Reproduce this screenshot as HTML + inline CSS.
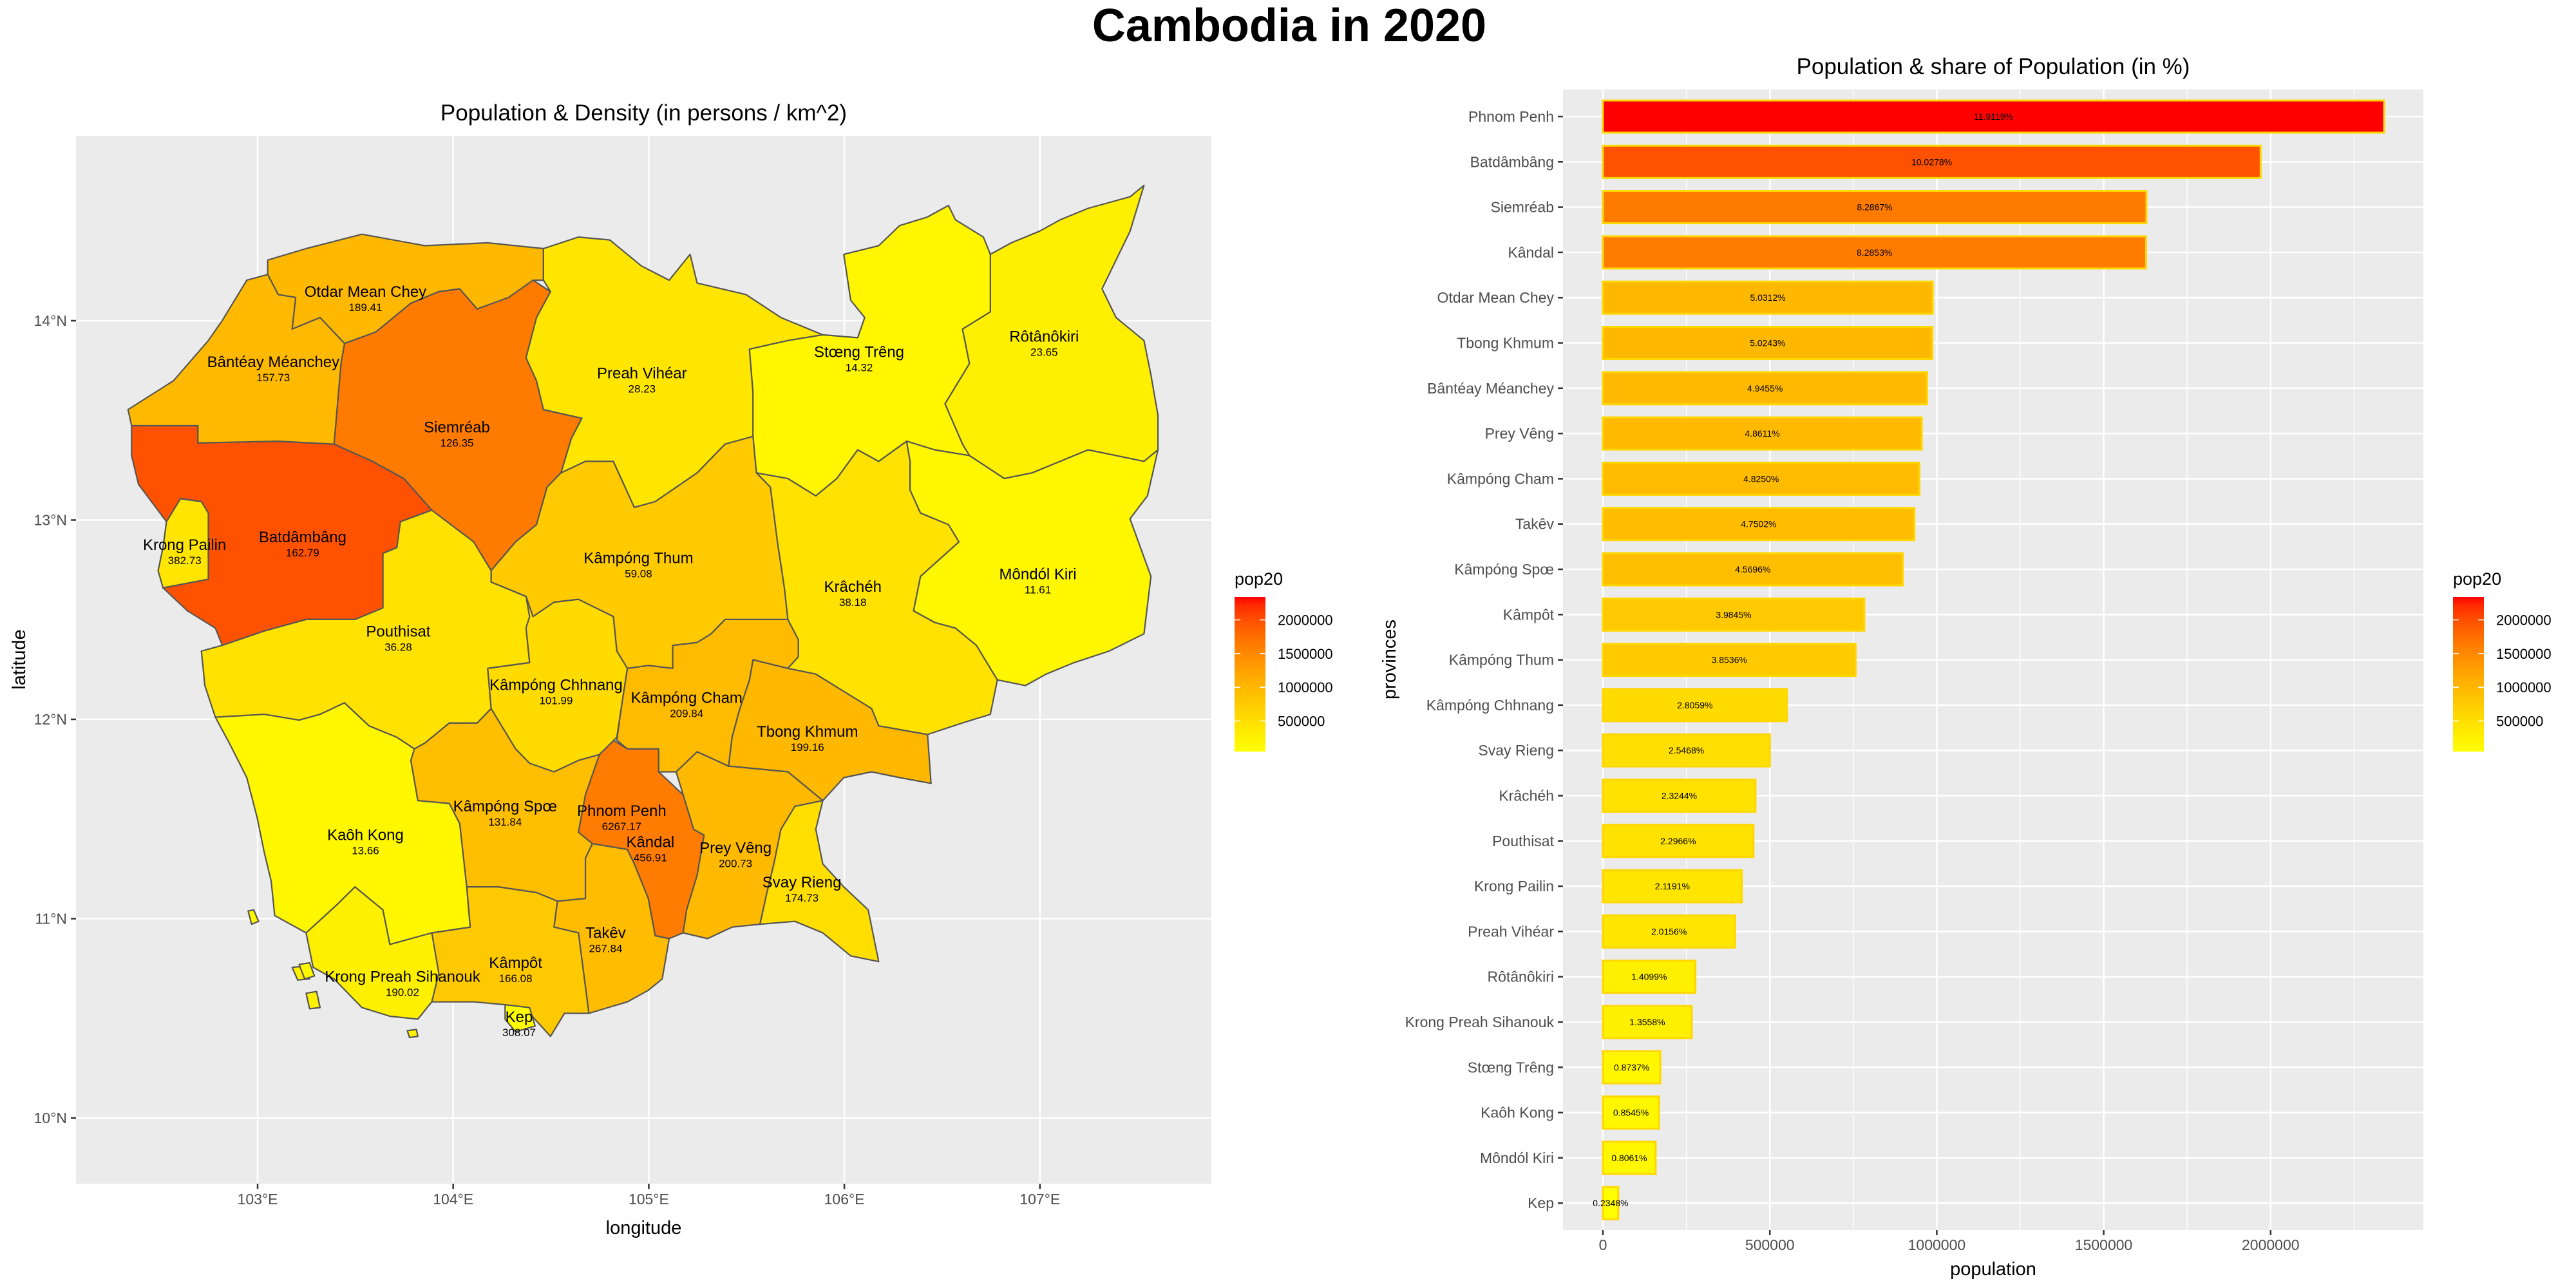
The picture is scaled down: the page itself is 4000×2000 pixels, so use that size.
<!DOCTYPE html>
<html><head><meta charset="utf-8">
<style>
html,body{margin:0;padding:0;background:#fff;}
svg{display:block;font-family:"Liberation Sans",Arial,sans-serif;}
</style></head>
<body>
<svg id="chart" xmlns="http://www.w3.org/2000/svg" width="4000" height="2000" viewBox="0 0 4000 2000">
<defs>
<linearGradient id="popgrad" x1="0" y1="1" x2="0" y2="0"></linearGradient>
</defs>
<rect x="0" y="0" width="4000" height="2000" fill="#ffffff"/>
<text x="2002" y="64" text-anchor="middle" font-size="72" font-weight="bold" fill="#000">Cambodia in 2020</text>
<g id="map"></g>
<g id="bars"></g>
</svg>
<script>
// ---------- data ----------
const provinces = ["Phnom Penh","Batdâmbâng","Siemréab","Kândal","Otdar Mean Chey","Tbong Khmum","Bântéay Méanchey","Prey Vêng","Kâmpóng Cham","Takêv","Kâmpóng Spœ","Kâmpôt","Kâmpóng Thum","Kâmpóng Chhnang","Svay Rieng","Krâchéh","Pouthisat","Krong Pailin","Preah Vihéar","Rôtânôkiri","Krong Preah Sihanouk","Stœng Trêng","Kaôh Kong","Môndól Kiri","Kep"];
const population = [2340000,1970000,1628000,1627000,988000,987000,971000,955000,948000,933000,898000,783000,757000,551000,500000,457000,451000,416000,396000,277000,266000,172000,168000,158000,46000];
const shareLabels = ["11.9119%","10.0278%","8.2867%","8.2853%","5.0312%","5.0243%","4.9455%","4.8611%","4.8250%","4.7502%","4.5696%","3.9845%","3.8536%","2.8059%","2.5468%","2.3244%","2.2966%","2.1191%","2.0156%","1.4099%","1.3558%","0.8737%","0.8545%","0.8061%","0.2348%"];
const density = ["6267.17","162.79","126.35","456.91","189.41","199.16","157.73","200.73","209.84","267.84","131.84","166.08","59.08","101.99","174.73","38.18","36.28","382.73","28.23","23.65","190.02","14.32","13.66","11.61","308.07"];
const xTicks = [0,500000,1000000,1500000,2000000];
const xMinor = [250000,750000,1250000,1750000,2250000];
const legendTicks = [500000,1000000,1500000,2000000];
const lonTicks = [103,104,105,106,107];
const latTicks = [10,11,12,13,14];

// province geometry in local survey-grid units (gx, gy), converted by toLonLat
const geometry = {
"Bântéay Méanchey":[[45,410],[110,360],[160,290],[180,255],[215,185],[245,175],[260,210],[285,215],[280,270],[320,250],[355,295],[350,330],[345,400],[340,470],[260,465],[145,468],[145,438],[50,438]],
"Otdar Mean Chey":[[245,175],[245,150],[300,130],[380,105],[470,125],[560,120],[640,130],[640,185],[625,185],[590,215],[545,235],[520,200],[490,205],[450,225],[400,275],[355,295],[320,250],[280,270],[285,215],[260,210]],
"Siemréab":[[355,295],[400,275],[450,225],[490,205],[520,200],[545,235],[590,215],[625,185],[650,205],[630,250],[615,320],[630,360],[640,410],[695,425],[680,460],[665,520],[645,545],[630,610],[600,640],[565,690],[540,640],[480,585],[440,530],[395,500],[340,470],[345,400],[350,330]],
"Batdâmbâng":[[50,438],[145,438],[145,468],[260,465],[340,470],[395,500],[440,530],[480,585],[435,605],[430,650],[410,660],[410,755],[370,775],[300,775],[240,795],[180,820],[170,790],[130,760],[95,720],[160,705],[160,590],[150,570],[120,565],[100,605],[60,540],[50,490]],
"Krong Pailin":[[100,605],[120,565],[150,570],[160,590],[160,705],[95,720],[88,690],[95,650]],
"Pouthisat":[[180,820],[240,795],[300,775],[370,775],[410,755],[410,660],[430,650],[435,605],[480,585],[540,640],[565,690],[565,710],[615,735],[620,770],[615,790],[620,850],[560,860],[565,930],[545,955],[505,955],[470,990],[455,1000],[430,980],[390,960],[355,920],[320,940],[290,950],[240,940],[170,945],[155,890],[150,830]],
"Kaôh Kong":[[170,945],[240,940],[290,950],[320,940],[355,920],[390,960],[430,980],[455,1000],[450,1020],[460,1090],[505,1095],[520,1130],[530,1240],[535,1310],[480,1320],[450,1330],[420,1340],[410,1280],[370,1240],[345,1270],[300,1320],[255,1290],[250,1230],[240,1180],[230,1120],[215,1050],[190,990]],
"Krong Preah Sihanouk":[[300,1320],[345,1270],[370,1240],[410,1280],[420,1340],[450,1330],[480,1320],[490,1390],[480,1440],[460,1470],[420,1465],[380,1450],[340,1400],[310,1380]],
"Kâmpóng Chhnang":[[565,710],[615,735],[625,770],[655,745],[690,740],[740,770],[745,830],[760,860],[750,940],[745,980],[720,1010],[690,1020],[655,1040],[620,1025],[600,1000],[580,960],[565,930],[560,860],[620,850],[615,790]],
"Kâmpóng Spœ":[[455,1000],[470,990],[505,955],[545,955],[565,930],[580,960],[600,1000],[620,1025],[655,1040],[690,1020],[720,1010],[700,1080],[690,1145],[710,1165],[700,1190],[700,1260],[660,1265],[630,1250],[575,1240],[530,1240],[520,1130],[505,1095],[460,1090],[450,1020]],
"Kâmpôt":[[530,1240],[575,1240],[630,1250],[660,1265],[655,1310],[690,1320],[705,1460],[670,1460],[650,1500],[620,1460],[585,1445],[540,1440],[480,1440],[490,1390],[480,1320],[535,1310]],
"Kep":[[585,1445],[620,1450],[628,1482],[600,1492],[585,1470]],
"Takêv":[[660,1265],[700,1260],[700,1190],[710,1165],[760,1175],[770,1200],[790,1260],[800,1325],[820,1330],[810,1400],[790,1420],[760,1440],[705,1460],[690,1320],[655,1310]],
"Kândal":[[720,1010],[740,985],[760,1000],[805,1000],[805,1040],[840,1080],[855,1140],[870,1150],[860,1220],[845,1280],[840,1320],[820,1330],[800,1325],[790,1260],[770,1200],[760,1175],[710,1165],[690,1145],[700,1080]],
"Phnom Penh":[[725,1070],[740,1060],[765,1065],[775,1100],[770,1140],[745,1145],[730,1120]],
"Kâmpóng Cham":[[760,860],[790,855],[825,860],[825,820],[860,815],[880,800],[900,775],[990,775],[1005,810],[1005,840],[990,860],[940,845],[935,880],[920,935],[910,980],[905,1030],[860,1005],[830,1040],[805,1040],[805,1000],[760,1000],[745,985],[750,940]],
"Tbong Khmum":[[940,845],[990,860],[1030,870],[1070,900],[1110,930],[1120,960],[1190,975],[1195,1060],[1150,1050],[1110,1040],[1070,1050],[1040,1090],[1010,1060],[990,1040],[905,1030],[910,980],[920,935],[935,880]],
"Prey Vêng":[[830,1040],[860,1005],[905,1030],[990,1040],[1010,1060],[1040,1090],[1000,1100],[980,1140],[970,1200],[960,1250],[950,1305],[910,1310],[875,1330],[840,1320],[845,1280],[860,1220],[870,1150],[855,1140],[840,1080]],
"Svay Rieng":[[1040,1090],[1030,1140],[1040,1200],[1070,1240],[1105,1280],[1120,1370],[1080,1360],[1040,1320],[1000,1300],[950,1305],[960,1250],[970,1200],[980,1140],[1000,1100]],
"Kâmpóng Thum":[[565,690],[600,640],[630,610],[645,545],[665,520],[700,500],[740,500],[770,580],[800,570],[860,520],[900,470],[940,455],[945,520],[965,545],[975,640],[985,720],[990,775],[900,775],[880,800],[860,815],[825,820],[825,860],[790,855],[760,860],[745,830],[740,770],[690,740],[655,745],[625,770],[615,735],[565,710]],
"Preah Vihéar":[[640,130],[690,110],[735,115],[780,160],[820,185],[850,140],[860,190],[930,210],[980,250],[1040,280],[990,290],[935,305],[940,380],[945,455],[900,470],[860,520],[800,570],[770,580],[740,500],[700,500],[665,520],[680,460],[695,425],[640,410],[630,360],[615,320],[630,250],[650,205],[640,185]],
"Stœng Trêng":[[935,305],[990,290],[1040,280],[1090,285],[1100,250],[1080,220],[1070,140],[1120,125],[1150,90],[1190,75],[1220,55],[1230,80],[1270,110],[1280,140],[1280,240],[1240,270],[1250,330],[1215,400],[1240,470],[1250,490],[1200,480],[1160,465],[1120,500],[1090,480],[1060,530],[1030,560],[990,530],[945,520],[940,455],[940,380]],
"Rôtânôkiri":[[1280,140],[1310,120],[1350,100],[1380,80],[1420,60],[1450,50],[1480,40],[1500,20],[1480,100],[1460,150],[1440,200],[1460,250],[1500,290],[1510,350],[1520,420],[1520,480],[1500,500],[1460,490],[1420,480],[1380,500],[1340,520],[1300,530],[1250,490],[1240,470],[1215,400],[1250,330],[1240,270],[1280,240]],
"Môndól Kiri":[[1160,465],[1200,480],[1250,490],[1300,530],[1340,520],[1380,500],[1420,480],[1460,490],[1500,500],[1520,480],[1505,560],[1480,600],[1510,700],[1500,800],[1450,830],[1400,850],[1360,870],[1330,890],[1290,880],[1260,820],[1230,790],[1200,780],[1170,760],[1180,700],[1235,640],[1220,610],[1180,590],[1165,550],[1165,500]],
"Krâchéh":[[945,520],[990,530],[1030,560],[1060,530],[1090,480],[1120,500],[1160,465],[1165,500],[1165,550],[1180,590],[1220,610],[1235,640],[1180,700],[1170,760],[1200,780],[1230,790],[1260,820],[1290,880],[1280,940],[1240,955],[1190,975],[1120,960],[1110,930],[1070,900],[1030,870],[990,860],[1005,840],[1005,810],[990,775],[985,720],[975,640],[965,545]]
};
const islands = {
"Kaôh Kong":[[[217,1282],[225,1280],[232,1300],[222,1305]],[[290,1375],[305,1372],[312,1395],[298,1400]]],
"Krong Preah Sihanouk":[[[280,1380],[298,1378],[305,1400],[288,1402]],[[300,1425],[315,1422],[320,1450],[305,1452]],[[445,1490],[458,1488],[460,1500],[448,1502]]]
};
const labelPos = {
"Otdar Mean Chey":[385,205],"Bântéay Méanchey":[253,327],"Siemréab":[516,441],"Preah Vihéar":[781,347],"Stœng Trêng":[1092,310],"Rôtânôkiri":[1357,283],"Krong Pailin":[126,645],"Batdâmbâng":[295,632],"Kâmpóng Thum":[776,668],"Krâchéh":[1083,718],"Môndól Kiri":[1348,696],"Pouthisat":[432,796],"Kâmpóng Chhnang":[658,889],"Kâmpóng Cham":[845,911],"Tbong Khmum":[1018,970],"Kâmpóng Spœ":[585,1100],"Phnom Penh":[752,1108],"Kândal":[793,1162],"Prey Vêng":[915,1172],"Svay Rieng":[1010,1232],"Kaôh Kong":[385,1150],"Takêv":[729,1320],"Kâmpôt":[600,1372],"Krong Preah Sihanouk":[438,1396],"Kep":[605,1466]
};

// ---------- helpers ----------
const NS = "http://www.w3.org/2000/svg";
function mk(tag, attrs, parent){ const e=document.createElementNS(NS,tag); for(const k in attrs) e.setAttribute(k,attrs[k]); if(parent) parent.appendChild(e); return e; }
const popMin = Math.min(...population), popMax = Math.max(...population);
function popColor(v){
  const t = Math.max(0, Math.min(1, (v-popMin)/(popMax-popMin)));
  const g = Math.round(255*Math.pow(1-t, 0.62));
  return "rgb(255,"+g+",0)";
}
// gradient stops
const grad = document.getElementById('popgrad');
for(let i=0;i<=20;i++){ const v=popMin+(popMax-popMin)*i/20; mk('stop',{offset:(i*5)+'%','stop-color':popColor(v)},grad); }

function toLonLat(p){ return [102.177 + 0.00357*p[0], 14.737 - 0.002885*p[1]]; }
function lonX(lon){ return 400 + (lon-103)*303.7; }
function latY(lat){ return 498 - (lat-14)*309.5; }
function proj(p){ const ll=toLonLat(p); return [lonX(ll[0]), latY(ll[1])]; }

function legend(parent, x, name){
  const g = mk('g',{},parent);
  
  
  const top=927, bot=1167, w=48;
  const t = mk('text',{x:x,y:908,'font-size':27,fill:'#000'},g); t.textContent='pop20';
  
  
  const r = mk('rect',{x:x,y:top,width:w,height:bot-top,fill:'url(#popgrad)'},g);
  
  
  legendTicks.forEach(v=>{
    const y = bot - (v-popMin)/(popMax-popMin)*(bot-top);
    mk('line',{x1:x,x2:x+9,y1:y,y2:y,stroke:'#fff','stroke-width':1.5},g);
    mk('line',{x1:x+w-9,x2:x+w,y1:y,y2:y,stroke:'#fff','stroke-width':1.5},g);
    const l = mk('text',{x:x+67,y:y+8,'font-size':22,fill:'#000'},g); l.textContent=String(v);
    
    
  });
}

// ---------- map ----------
(function(){
  const m = document.getElementById('map');
  const L=118, R=1881, T=211, B=1838;
  const ttl = mk('text',{x:(L+R)/2,y:187,'text-anchor':'middle','font-size':35,fill:'#000'},m);
  ttl.textContent='Population & Density (in persons / km^2)';
  
  
  const panel = mk('rect',{x:L,y:T,width:R-L,height:B-T,fill:'#ebebeb'},m);
  
  
  lonTicks.forEach(lon=>{
    const x=lonX(lon);
    const gl=mk('line',{x1:x,x2:x,y1:T,y2:B,stroke:'#fff','stroke-width':2.5},m);
    
    
    mk('line',{x1:x,x2:x,y1:B,y2:B+8,stroke:'#333','stroke-width':2.5},m);
    const t=mk('text',{x:x,y:1870,'text-anchor':'middle','font-size':23,fill:'#4d4d4d'},m); t.textContent=lon+'°E';
    
    
  });
  latTicks.forEach(lat=>{
    const y=latY(lat);
    const gl=mk('line',{x1:L,x2:R,y1:y,y2:y,stroke:'#fff','stroke-width':2.5},m);
    
    
    mk('line',{x1:L-8,x2:L,y1:y,y2:y,stroke:'#333','stroke-width':2.5},m);
    const t=mk('text',{x:104,y:y+8,'text-anchor':'end','font-size':23,fill:'#4d4d4d'},m); t.textContent=lat+'°N';
    
    
  });
  const xt=mk('text',{x:(L+R)/2,y:1916,'text-anchor':'middle','font-size':29,fill:'#000'},m); xt.textContent='longitude';
  
  
  const yt=mk('text',{x:0,y:0,'text-anchor':'middle','font-size':29,fill:'#000',transform:'translate(39,1024) rotate(-90)'},m); yt.textContent='latitude';
  
  

  const gp = mk('g',{},m);
  
  
  provinces.forEach((p,i)=>{
    const shapes=[geometry[p]].concat(islands[p]||[]);
    shapes.forEach(sh=>{
      const pts = sh.map(q=>proj(q).map(v=>v.toFixed(1)).join(',')).join(' ');
      const poly = mk('polygon',{points:pts,fill:popColor(population[i]),stroke:'#555','stroke-width':2.2,'stroke-linejoin':'round'},gp);
      
      
    });
  });
  const gl = mk('g',{},m);
  
  
  provinces.forEach((p,i)=>{
    const c = proj(labelPos[p]);
    const t = mk('text',{x:c[0],y:c[1]+8,'text-anchor':'middle','font-size':24,fill:'#000'},gl); t.textContent=p;
    
    
    const d = mk('text',{x:c[0],y:c[1]+30,'text-anchor':'middle','font-size':17,fill:'#000'},gl); d.textContent=density[i];
    
    
  });
  legend(m, 1917, 'map-legend');
})();

// ---------- bar chart ----------
(function(){
  const b = document.getElementById('bars');
  const L=2427, R=3763, T=139, B=1910;
  const x0=2489, pxPerUnit=518.4/1000000;
  const xs = v => x0 + v*pxPerUnit;
  const y0=181, step=70.3, barH=50;
  const ys = i => y0 + i*step;
  const ttl = mk('text',{x:3095,y:115,'text-anchor':'middle','font-size':35,fill:'#000'},b);
  ttl.textContent='Population & share of Population (in %)';
  
  
  const panel = mk('rect',{x:L,y:T,width:R-L,height:B-T,fill:'#ebebeb'},b);
  
  
  xMinor.forEach(v=>{ const x=xs(v); if(x<R){ const l=mk('line',{x1:x,x2:x,y1:T,y2:B,stroke:'#fff','stroke-width':1.3},b);
    
     }});
  xTicks.forEach(v=>{ const x=xs(v);
    const l=mk('line',{x1:x,x2:x,y1:T,y2:B,stroke:'#fff','stroke-width':2.6},b);
    
    
    mk('line',{x1:x,x2:x,y1:B,y2:B+8,stroke:'#333','stroke-width':2.5},b);
    const t=mk('text',{x:x,y:1941,'text-anchor':'middle','font-size':23,fill:'#4d4d4d'},b); t.textContent=String(v);
    
    
  });
  provinces.forEach((p,i)=>{ const y=ys(i);
    const l=mk('line',{x1:L,x2:R,y1:y,y2:y,stroke:'#fff','stroke-width':2.6},b);
    
    
    mk('line',{x1:L-8,x2:L,y1:y,y2:y,stroke:'#333','stroke-width':2.5},b);
    const t=mk('text',{x:2413,y:y+8,'text-anchor':'end','font-size':23,fill:'#4d4d4d'},b); t.textContent=p;
    
    
  });
  provinces.forEach((p,i)=>{ const y=ys(i);
    const r=mk('rect',{x:xs(0),y:y-barH/2,width:xs(population[i])-xs(0),height:barH,fill:popColor(population[i]),stroke:'#FFD700','stroke-width':3},b);
    
    
    const t=mk('text',{x:(xs(0)+xs(population[i]))/2,y:y+5,'text-anchor':'middle','font-size':14,fill:'#000'},b); t.textContent=shareLabels[i];
    
    
  });
  const xt=mk('text',{x:(L+R)/2,y:1980,'text-anchor':'middle','font-size':29,fill:'#000'},b); xt.textContent='population';
  
  
  const yt=mk('text',{x:0,y:0,'text-anchor':'middle','font-size':29,fill:'#000',transform:'translate(2167,1024) rotate(-90)'},b); yt.textContent='provinces';
  
  
  legend(b, 3809, 'bar-legend');
})();
</script>
</body></html>
